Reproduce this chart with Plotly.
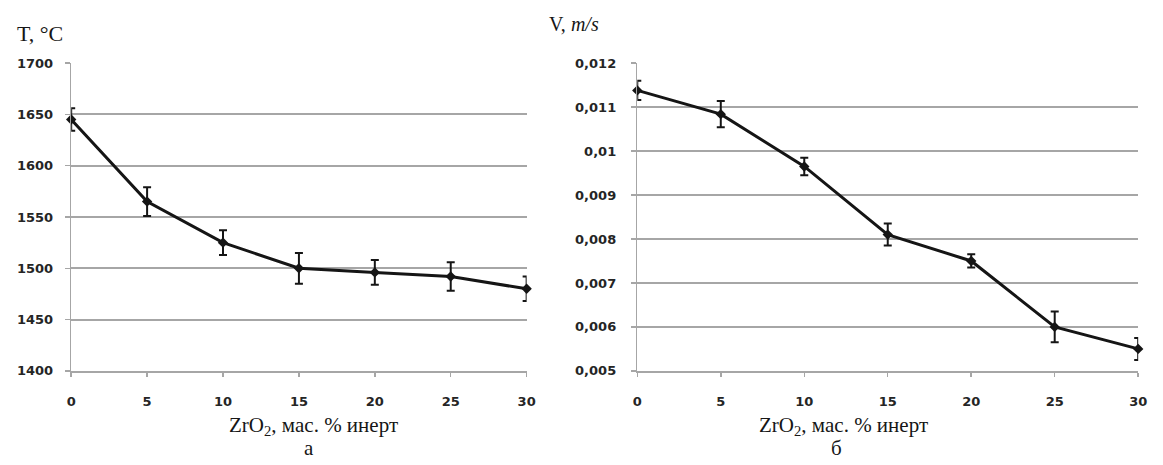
import plotly.graph_objects as go

# ---- data ----
x_vals = [0, 5, 10, 15, 20, 25, 30]
temp_T = [1645, 1565, 1525, 1500, 1496, 1492, 1480]
temp_err = [11, 14, 12, 15, 12, 14, 12]
vel_V = [0.01138, 0.01084, 0.00965, 0.0081, 0.0075, 0.0060, 0.0055]
vel_err = [0.00022, 0.0003, 0.0002, 0.00025, 0.00015, 0.00035, 0.00025]

x_ticks = [0, 5, 10, 15, 20, 25, 30]
t_ticks = [1400, 1450, 1500, 1550, 1600, 1650, 1700]
v_ticks = [0.005, 0.006, 0.007, 0.008, 0.009, 0.010, 0.011, 0.012]
v_ticktext = ["0,005", "0,006", "0,007", "0,008", "0,009", "0,01", "0,011", "0,012"]

W, H = 1163, 465
LINE = "#151515"
GRID = "#a6a6a6"
TICKFONT = dict(family="DejaVu Sans", size=13, color="#252525", weight="bold")
SERIF = "Liberation Serif"
TXT = "#161616"

fig = go.Figure()
fig.add_trace(go.Scatter(
    x=x_vals, y=temp_T, mode="lines+markers",
    line=dict(color=LINE, width=3),
    marker=dict(symbol="diamond", size=8, color=LINE),
    error_y=dict(type="data", array=temp_err, color=LINE, thickness=2, width=4),
    cliponaxis=False, showlegend=False, hoverinfo="skip", xaxis="x", yaxis="y"))
fig.add_trace(go.Scatter(
    x=x_vals, y=vel_V, mode="lines+markers",
    line=dict(color=LINE, width=3),
    marker=dict(symbol="diamond", size=8, color=LINE),
    error_y=dict(type="data", array=vel_err, color=LINE, thickness=2, width=4),
    cliponaxis=False, showlegend=False, hoverinfo="skip", xaxis="x2", yaxis="y2"))

def px_x(p):
    return p / W

def px_y(p):
    return 1 - p / H

xdom1 = [px_x(67), px_x(528)]
xdom2 = [px_x(640), px_x(1147)]
ydom = [px_y(376), px_y(58)]

xcommon = dict(range=[0, 30], tickvals=x_ticks, showgrid=False, zeroline=False,
               showline=True, linecolor=GRID, linewidth=2,
               ticks="outside", ticklen=4, tickcolor=GRID, tickwidth=1.5,
               ticklabelstandoff=14, tickfont=TICKFONT)
ycommon = dict(showgrid=True, gridcolor=GRID, gridwidth=2, zeroline=False,
               showline=True, linecolor=GRID, linewidth=1.5,
               ticks="outside", ticklen=5, tickcolor=GRID, tickwidth=1.5,
               tickfont=TICKFONT)

fig.update_layout(
    width=W, height=H,
    margin=dict(l=0, r=0, t=0, b=0),
    paper_bgcolor="white", plot_bgcolor="white",
    xaxis=dict(domain=xdom1, anchor="y", **xcommon),
    yaxis=dict(domain=ydom, anchor="x", range=[1400, 1700], tickvals=t_ticks,
               ticklabelstandoff=9, **ycommon),
    xaxis2=dict(domain=xdom2, anchor="y2", **xcommon),
    yaxis2=dict(domain=ydom, anchor="x2", range=[0.005, 0.012], tickvals=v_ticks,
                ticktext=v_ticktext, ticklabelstandoff=12, **ycommon),
    annotations=[
        dict(text="T, °C", x=px_x(10), y=px_y(27), xref="paper", yref="paper",
             xanchor="left", yanchor="middle", showarrow=False,
             font=dict(family=SERIF, size=22, color=TXT)),
        dict(text="V, <i>m/s</i>", x=px_x(549), y=px_y(18), xref="paper", yref="paper",
             xanchor="left", yanchor="middle", showarrow=False,
             font=dict(family=SERIF, size=20, color=TXT)),
        dict(text="ZrO<sub>2</sub>, мас. % инерт", x=px_x(312), y=px_y(433), xref="paper", yref="paper",
             xanchor="center", yanchor="middle", showarrow=False,
             font=dict(family=SERIF, size=21, color=TXT)),
        dict(text="а", x=px_x(308), y=px_y(456), xref="paper", yref="paper",
             xanchor="center", yanchor="middle", showarrow=False,
             font=dict(family=SERIF, size=21, color=TXT)),
        dict(text="ZrO<sub>2</sub>, мас. % инерт", x=px_x(849), y=px_y(433), xref="paper", yref="paper",
             xanchor="center", yanchor="middle", showarrow=False,
             font=dict(family=SERIF, size=21, color=TXT)),
        dict(text="б", x=px_x(842), y=px_y(456), xref="paper", yref="paper",
             xanchor="center", yanchor="middle", showarrow=False,
             font=dict(family=SERIF, size=21, color=TXT)),
    ],
)

fig.write_html(
    "out.html",
    config={"displayModeBar": False, "staticPlot": True},
    post_script="document.body.style.margin='0';document.body.style.overflow='hidden';"
                "document.documentElement.style.overflow='hidden';",
)
